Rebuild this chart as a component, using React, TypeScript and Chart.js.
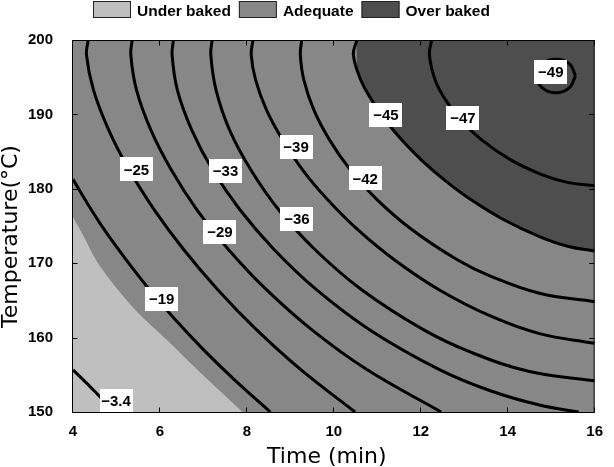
import React, { useEffect, useRef } from "react";
import { Chart, registerables } from "chart.js";

Chart.register(...registerables);

// ---------- axes ----------
const timeMin = 4;
const timeMax = 16;
const tempMin = 150;
const tempMax = 200;
const timeTicks = [4, 6, 8, 10, 12, 14, 16];
const tempTicks = [150, 160, 170, 180, 190, 200];
const xTitle = "Time (min)";
const yTitle = "Temperature(°C)";

// ---------- regions / legend ----------
const regionNames = ["Under baked", "Adequate", "Over baked"];
const regionColors = ["#bfbfbf", "#878787", "#4e4e4e"];

// boundary of the under-baked zone: [time, temperature]
const underBakedEdge = [
  [4.0, 176.2], [4.21, 174.0], [4.61, 169.7], [5.42, 163.8],
  [6.19, 159.5], [7.0, 154.9], [7.9, 150.0],
];
// the adequate zone covers the whole plot behind the others
const adequateTop = [[4, 200], [16, 200]];

// ---------- contour lines: [time, temperature] ----------
const contourLevels = [-3.4, -19, -25, -29, -33, -36, -39, -42, -45, -47, -49];

const lineM3_4 = [[4.0, 155.66], [4.48, 152.89], [4.95, 150.0]];
const lineM19 = [[4.0, 181.29], [4.28, 178.52], [4.72, 174.5], [5.22, 170.47], [5.76, 166.44], [6.35, 162.42], [7.0, 158.39], [7.71, 154.36], [8.54, 150.0]];
const lineM25 = [[4.35, 200], [4.31, 197.99], [4.47, 193.29], [4.82, 187.92], [5.29, 182.55], [5.87, 177.18], [6.55, 171.81], [7.33, 166.44], [8.22, 161.07], [9.24, 155.7], [10.49, 150.0]];
const lineM29 = [[5.36, 200], [5.33, 197.99], [5.46, 193.29], [5.79, 187.92], [6.26, 182.55], [6.85, 177.18], [7.58, 171.81], [8.45, 166.44], [9.49, 161.07], [10.76, 155.7], [12.47, 150.0]];
const lineM33 = [[6.31, 200], [6.28, 197.99], [6.4, 193.29], [6.73, 187.92], [7.21, 182.55], [7.84, 177.18], [8.63, 171.81], [9.6, 166.44], [10.82, 161.07], [12.43, 155.7], [13.6, 152.86], [14.73, 150.94], [15.63, 150.0]];
const lineM36 = [[7.2, 200], [7.17, 197.99], [7.29, 193.29], [7.6, 187.92], [8.09, 182.55], [8.73, 177.18], [9.57, 171.81], [10.64, 166.44], [12.06, 161.07], [13.15, 158.04], [14.5, 155.45], [16.0, 154.19]];
const lineM39 = [[8.14, 200], [8.1, 197.99], [8.2, 194.63], [8.45, 190.6], [8.82, 186.58], [9.28, 182.55], [9.86, 178.52], [10.55, 174.5], [11.39, 170.47], [12.42, 166.44], [13.6, 162.91], [14.73, 160.54], [16.0, 159.23]];
const lineM42 = [[9.26, 200], [9.23, 197.99], [9.31, 194.63], [9.54, 190.6], [9.9, 186.58], [10.38, 182.55], [11.0, 178.52], [11.8, 174.5], [12.84, 170.47], [13.6, 168.27], [14.73, 165.96], [16.0, 164.83]];
const lineM45 = [[10.53, 200], [10.45, 197.99], [10.62, 194.63], [10.87, 191.95], [11.18, 189.26], [11.56, 186.58], [12.01, 183.89], [12.54, 181.21], [13.16, 178.52], [13.91, 175.84], [14.73, 173.58], [15.4, 172.24], [16.0, 171.64]];
const lineM47 = [[12.25, 200], [12.2, 197.99], [12.33, 194.63], [12.57, 191.95], [12.92, 189.26], [13.4, 186.58], [14.07, 183.89], [14.8, 181.88], [15.4, 180.83], [16.0, 180.4]];
const lineM49 = [[15.56, 195.2], [15.42, 196.8], [15.11, 197.4], [14.79, 196.8], [14.66, 195.2], [14.79, 193.6], [15.11, 192.9], [15.42, 193.6], [15.56, 195.2]];

const contourLines = [lineM3_4, lineM19, lineM25, lineM29, lineM33, lineM36, lineM39, lineM42, lineM45, lineM47, lineM49];

// ---------- contour labels ----------
const labelValues = [-3.4, -19, -25, -29, -33, -36, -39, -42, -45, -47, -49];
const labelTime = [4.99, 6.04, 5.46, 7.38, 7.51, 9.15, 9.13, 10.72, 11.2, 12.97, 14.99];
const labelTemp = [151.5, 165.2, 182.6, 174.2, 182.4, 175.9, 185.6, 181.4, 189.9, 189.5, 195.7];

const BOLD = "'Liberation Sans', Arial, Helvetica, sans-serif";
const REG = "'DejaVu Sans', Verdana, sans-serif";

const decorPlugin = {
  id: "decor",
  afterDatasetsDraw(chart: any) {
    const { ctx, chartArea: a, scales } = chart;
    const xs = scales.x;
    const ys = scales.y;
    ctx.save();
    ctx.beginPath();
    ctx.rect(a.left, a.top, a.right - a.left, a.bottom - a.top);
    ctx.clip();
    ctx.font = `bold 15px ${BOLD}`;
    ctx.textAlign = "center";
    ctx.textBaseline = "middle";
    labelValues.forEach((v, i) => {
      const px = xs.getPixelForValue(labelTime[i]);
      const py = ys.getPixelForValue(labelTemp[i]);
      ctx.fillStyle = "#ffffff";
      ctx.fillRect(Math.round(px - 16.5), Math.round(py - 12), 33, 24);
      ctx.fillStyle = "#000000";
      ctx.fillText("\u2212" + Math.abs(v), px, py + 1);
    });
    ctx.restore();

    ctx.save();
    ctx.strokeStyle = "#000";
    ctx.lineWidth = 1;
    const L = a.left - 0.5, R = a.right - 0.5, T = a.top + 0.5, B = a.bottom + 0.5;
    ctx.strokeRect(L, T, R - L, B - T);
    ctx.beginPath();
    timeTicks.forEach((t) => {
      const x = Math.round(xs.getPixelForValue(t)) - 0.5;
      ctx.moveTo(x, B); ctx.lineTo(x, B - 5);
      ctx.moveTo(x, T); ctx.lineTo(x, T + 5);
    });
    tempTicks.forEach((v) => {
      const y = Math.round(ys.getPixelForValue(v)) + 0.5;
      ctx.moveTo(L, y); ctx.lineTo(L + 5, y);
      ctx.moveTo(R, y); ctx.lineTo(R - 5, y);
    });
    ctx.stroke();
    ctx.restore();
  },
  afterDraw(chart: any) {
    const { ctx, chartArea: a } = chart;
    ctx.save();
    ctx.font = `bold 15.5px ${BOLD}`;
    ctx.textBaseline = "alphabetic";
    ctx.textAlign = "left";
    let x = 93;
    regionNames.forEach((name, i) => {
      ctx.fillStyle = regionColors[i];
      ctx.fillRect(x, 1, 38, 17);
      ctx.strokeStyle = "#222";
      ctx.lineWidth = 1;
      ctx.strokeRect(x + 0.5, 1.5, 37, 16);
      ctx.fillStyle = "#000";
      const tx = x + 44;
      ctx.fillText(name, tx, 16);
      x = tx + ctx.measureText(name).width + 8;
    });
    ctx.font = `22px ${REG}`;
    ctx.fillStyle = "#000";
    ctx.textAlign = "center";
    ctx.fillText(xTitle, (a.left + a.right) / 2 - 7, 463);
    ctx.translate(17, 236.5);
    ctx.rotate(-Math.PI / 2);
    ctx.fillText(yTitle, 0, 0);
    ctx.restore();
  },
};

export default function App() {
  const ref = useRef<HTMLCanvasElement | null>(null);

  useEffect(() => {
    document.body.style.margin = "0";
    const canvas = ref.current;
    if (!canvas) return;
    const toXY = (pts: number[][]) => pts.map(([x, y]) => ({ x, y }));
    const none = "rgba(0,0,0,0)";
    const datasets: any[] = [
      {
        label: regionNames[1], data: toXY(adequateTop), showLine: true, fill: "start",
        backgroundColor: regionColors[1], borderColor: none, borderWidth: 0, pointRadius: 0, order: 30,
      },
      {
        label: regionNames[0], data: toXY(underBakedEdge), showLine: true, fill: "start",
        backgroundColor: regionColors[0], borderColor: none, borderWidth: 0, pointRadius: 0, tension: 0.3, order: 29,
      },
      {
        label: regionNames[2], data: toXY(lineM45), showLine: true, fill: "end",
        backgroundColor: regionColors[2], borderColor: none, borderWidth: 0, pointRadius: 0, tension: 0.4, order: 28,
      },
    ];
    contourLines.forEach((pts, i) => {
      datasets.push({
        label: `contour ${contourLevels[i]}`, data: toXY(pts), showLine: true, fill: false,
        borderColor: "#000", borderWidth: 3, pointRadius: 0, tension: 0.4, order: 5, clip: 0,
      });
    });

    const chart = new Chart(canvas, {
      type: "scatter",
      data: { datasets },
      options: {
        animation: false,
        responsive: false,
        devicePixelRatio: 1,
        layout: { padding: { top: 40, right: 8, left: 0, bottom: 0 } },
        plugins: { legend: { display: false }, tooltip: { enabled: false } },
        scales: {
          x: {
            type: "linear", min: timeMin, max: timeMax,
            afterBuildTicks: (s: any) => { s.ticks = timeTicks.map((v) => ({ value: v })); },
            afterFit: (s: any) => { s.height = 55; },
            grid: { display: false, drawTicks: false },
            border: { display: false },
            ticks: { color: "#000", font: { family: BOLD, size: 15, weight: "bold" }, padding: 11, maxRotation: 0, autoSkip: false },
          },
          y: {
            type: "linear", min: tempMin, max: tempMax,
            afterBuildTicks: (s: any) => { s.ticks = tempTicks.map((v) => ({ value: v })); },
            afterFit: (s: any) => { s.width = 73; },
            grid: { display: false, drawTicks: false },
            border: { display: false },
            ticks: { color: "#000", font: { family: BOLD, size: 15, weight: "bold" }, padding: 20, autoSkip: false },
          },
        },
      } as any,
      plugins: [decorPlugin],
    });
    return () => chart.destroy();
  }, []);

  return (
    <div style={{ width: 614, height: 467 }}>
      <canvas ref={ref} width={614} height={467} style={{ display: "block" }} />
    </div>
  );
}
